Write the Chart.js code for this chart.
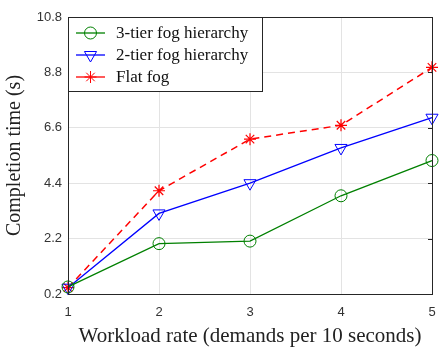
<!DOCTYPE html>
<html>
<head>
<meta charset="utf-8">
<script src="https://cdn.jsdelivr.net/npm/chart.js@4"></script>
<style>
  html, body { margin: 0; padding: 0; background: #fff; }
  #wrap { width: 440px; height: 349px; }
</style>
</head>
<body>
<div id="wrap"><canvas id="chart" width="440" height="349"></canvas></div>
<script>
// workload rate (demands per 10 s)
var workload = [1, 2, 3, 4, 5];
var tier3 = [0.28, 2.0, 2.1, 3.9, 5.3];
var tier2 = [0.25, 3.2, 4.4, 5.8, 7.0];
var flat = [0.25, 4.1, 6.15, 6.7, 9.0];

// y ticks are evenly spaced, labels as printed in the figure
var yTickValues = [0, 2.2, 4.4, 6.6, 8.8, 11];
var yTickLabels = ['0.2', '2.2', '4.4', '6.6', '8.8', '10.8'];

function toPoints(ys) {
    return workload.map(function (x, i) { return { x: x, y: ys[i] }; });
}

// box around the plot + legend inside top-left corner
var boxAndLegend = {
    id: 'boxAndLegend',
    afterDraw: function (chart) {
        var ctx = chart.ctx;
        var a = chart.chartArea;
        ctx.save();
        ctx.strokeStyle = '#262626';
        ctx.lineWidth = 1;
        ctx.strokeRect(a.left + 0.5, a.top + 0.5, a.right - a.left, a.bottom - a.top);

        // inward tick marks on right side
        var ys = chart.scales.y;
        yTickValues.forEach(function (v) {
            var py = Math.round(ys.getPixelForValue(v)) + 0.5;
            ctx.beginPath();
            ctx.moveTo(a.right - 4, py);
            ctx.lineTo(a.right, py);
            ctx.stroke();
        });

        // legend
        var lx = a.left, ly = a.top, lw = 194, lh = 74;
        ctx.fillStyle = '#fff';
        ctx.fillRect(lx, ly, lw, lh);
        ctx.strokeStyle = '#262626';
        ctx.strokeRect(lx + 0.5, ly + 0.5, lw, lh);

        var rows = [16, 38, 60];
        chart.data.datasets.forEach(function (ds, i) {
            var cy = ly + rows[i];
            ctx.save();
            ctx.strokeStyle = ds.borderColor;
            ctx.lineWidth = 1.3;
            ctx.beginPath();
            ctx.moveTo(lx + 8, cy);
            ctx.lineTo(lx + 37, cy);
            ctx.stroke();
            ctx.fillStyle = 'rgba(0,0,0,0)';
            ctx.lineWidth = 1;
            Chart.helpers.drawPoint(ctx, {
                pointStyle: ds.pointStyle,
                radius: ds.pointRadius,
                rotation: ds.pointRotation || 0,
                borderWidth: 1
            }, lx + 22.5, cy);
            ctx.restore();
            ctx.fillStyle = '#111';
            ctx.font = '17px "Liberation Serif", serif';
            ctx.textBaseline = 'middle';
            ctx.textAlign = 'left';
            ctx.fillText(ds.label, lx + 48, cy + 1);
        });
        ctx.restore();
    }
};

var ctx = document.getElementById('chart').getContext('2d');
var chart = new Chart(ctx, {
    type: 'line',
    data: {
        datasets: [{
            label: '3-tier fog hierarchy',
            data: toPoints(tier3),
            borderColor: 'rgb(0, 128, 0)',
            backgroundColor: 'rgba(0,0,0,0)',
            borderWidth: 1.3,
            pointStyle: 'circle',
            pointRadius: 6,
            pointBorderWidth: 1,
            pointBackgroundColor: 'rgba(0,0,0,0)'
        }, {
            label: '2-tier fog hierarchy',
            data: toPoints(tier2),
            borderColor: 'rgb(0, 0, 255)',
            backgroundColor: 'rgba(0,0,0,0)',
            borderWidth: 1.3,
            pointStyle: 'triangle',
            pointRotation: 180,
            pointRadius: 7,
            pointBorderWidth: 1,
            pointBackgroundColor: 'rgba(0,0,0,0)'
        }, {
            label: 'Flat fog',
            data: toPoints(flat),
            borderColor: 'rgb(255, 0, 0)',
            backgroundColor: 'rgba(0,0,0,0)',
            borderWidth: 1.5,
            borderDash: [7, 5],
            pointStyle: 'star',
            pointRadius: 6,
            pointBorderWidth: 1.2,
            pointBackgroundColor: 'rgba(0,0,0,0)'
        }]
    },
    options: {
        responsive: false,
        animation: false,
        clip: false,
        layout: { padding: { top: 17, right: 1, left: 3, bottom: 0 } },
        plugins: {
            legend: { display: false },
            tooltip: { enabled: false }
        },
        scales: {
            x: {
                type: 'linear',
                min: 1,
                max: 5,
                ticks: {
                    stepSize: 1,
                    color: '#333',
                    font: { family: '"Liberation Sans", Arial, sans-serif', size: 13 },
                    padding: 11
                },
                grid: { color: '#e3e3e3', drawTicks: false },
                border: { display: false },
                title: {
                    display: true,
                    text: 'Workload rate (demands per 10 seconds)',
                    color: '#222',
                    font: { family: '"Liberation Serif", serif', size: 21 },
                    padding: { top: 0, bottom: 0 }
                },
                afterFit: function (scale) {
                    scale.height = 55;
                    scale.paddingLeft = 0;
                    scale.paddingRight = 0;
                }
            },
            y: {
                min: 0,
                max: 11,
                afterBuildTicks: function (scale) {
                    scale.ticks = yTickValues.map(function (v) { return { value: v }; });
                },
                ticks: {
                    color: '#333',
                    font: { family: '"Liberation Sans", Arial, sans-serif', size: 13 },
                    padding: 6,
                    callback: function (value, index) {
                        return yTickLabels[index];
                    }
                },
                grid: { color: '#e3e3e3', drawTicks: false },
                border: { display: false },
                title: {
                    display: true,
                    text: 'Completion time (s)',
                    color: '#222',
                    font: { family: '"Liberation Serif", serif', size: 20 },
                    padding: { top: 0, bottom: 4 }
                },
                afterFit: function (scale) { scale.width = 65; }
            }
        }
    },
    plugins: [boxAndLegend]
});
</script>
</body>
</html>
